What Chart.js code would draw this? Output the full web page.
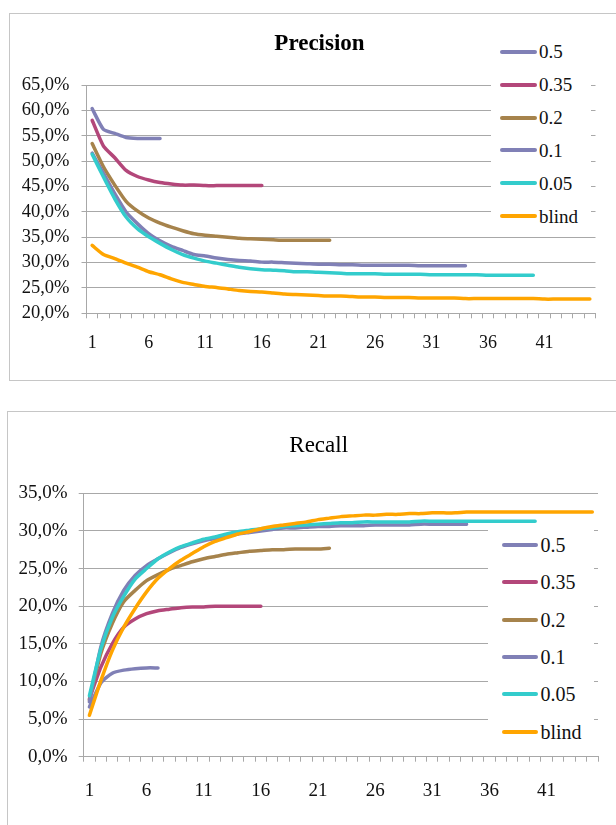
<!DOCTYPE html>
<html><head><meta charset="utf-8">
<script src="https://cdn.jsdelivr.net/npm/chart.js@4.4.1/dist/chart.umd.min.js"></script>
<style>
html,body{margin:0;padding:0;background:#fff;width:616px;height:825px;overflow:hidden;position:relative;font-family:"Liberation Serif",serif;}
.box{position:absolute;border:1.5px solid #c6c6c6;box-sizing:border-box;}
canvas{position:absolute;left:0;}
.leg{position:absolute;background:#fff;}
.lt{position:absolute;white-space:nowrap;color:#111;line-height:1;font-family:"Liberation Serif",serif;}
.ttl{position:absolute;width:240px;text-align:center;white-space:nowrap;color:#000;line-height:1;font-family:"Liberation Serif",serif;}
.sw{position:absolute;height:4px;border-radius:2px;}
</style></head><body>
<div class="box" style="left:9px;top:13px;width:640px;height:368px"></div>
<div class="box" style="left:7px;top:411px;width:640px;height:440px"></div>
<canvas id="c1" width="616" height="400" style="top:0"></canvas>
<canvas id="c2" width="616" height="425" style="top:400px"></canvas>
<script>
const categories = ['1','2','3','4','5','6','7','8','9','10','11','12','13','14','15','16','17','18','19','20','21','22','23','24','25','26','27','28','29','30','31','32','33','34','35','36','37','38','39','40','41','42','43','44','45'];
const seriesNames = ['0.5','0.35','0.2','0.1','0.05','blind'];
const seriesColors = ['#8080b6','#b3477a','#a6834c','#8080b6','#33cccc','#ffa500'];
const chartTitles = ['Precision','Recall'];

const precision05 = [60.4,56.3,55.5,54.7,54.5,54.5,54.5];
const precision035 = [58.1,53.0,50.7,48.2,47.0,46.3,45.8,45.5,45.3,45.3,45.2,45.2,45.2,45.2,45.2,45.2];
const precision02 = [53.5,48.9,45.3,42.1,40.2,38.8,37.8,37.0,36.3,35.7,35.4,35.2,35.0,34.8,34.7,34.6,34.5,34.4,34.4,34.4,34.4,34.4];
const precision01 = [51.6,47.6,43.6,40.0,37.7,35.7,34.3,33.2,32.4,31.6,31.3,30.9,30.6,30.4,30.3,30.1,30.1,30.0,29.9,29.8,29.7,29.7,29.6,29.6,29.5,29.5,29.5,29.5,29.5,29.4,29.4,29.4,29.4,29.4];
const precision005 = [51.4,46.9,42.6,39.0,36.7,35.1,33.8,32.6,31.6,30.9,30.3,29.9,29.5,29.1,28.8,28.6,28.5,28.4,28.2,28.2,28.1,28.0,27.9,27.8,27.8,27.8,27.7,27.7,27.7,27.7,27.6,27.6,27.6,27.6,27.6,27.5,27.5,27.5,27.5,27.5];
const precisionBlind = [33.4,31.6,30.8,29.9,29.1,28.2,27.6,26.8,26.1,25.7,25.3,25.1,24.8,24.5,24.3,24.2,24.0,23.8,23.7,23.6,23.5,23.4,23.4,23.3,23.2,23.2,23.1,23.1,23.1,23.0,23.0,23.0,23.0,22.9,22.9,22.9,22.9,22.9,22.9,22.9,22.8,22.8,22.8,22.8,22.8];

const recall05 = [6.6,9.8,11.1,11.5,11.7,11.8,11.8];
const recall035 = [7.7,11.9,15.0,17.2,18.3,19.0,19.4,19.6,19.8,19.9,19.9,20.0,20.0,20.0,20.0,20.0];
const recall02 = [7.5,13.7,17.7,20.6,22.1,23.4,24.2,24.9,25.4,25.9,26.3,26.6,26.9,27.1,27.3,27.4,27.5,27.5,27.6,27.6,27.6,27.7];
const recall01 = [7.3,14.6,19.0,22.1,24.1,25.4,26.3,27.1,27.8,28.3,28.7,29.0,29.3,29.6,29.8,30.0,30.2,30.4,30.4,30.5,30.6,30.6,30.7,30.7,30.7,30.8,30.8,30.8,30.8,30.9,30.9,30.9,30.9,30.9];
const recall005 = [8.1,14.3,18.5,21.3,23.6,25.0,26.3,27.2,27.9,28.4,28.9,29.2,29.6,29.9,30.1,30.3,30.4,30.6,30.7,30.8,30.9,31.0,31.1,31.1,31.2,31.2,31.2,31.2,31.2,31.3,31.3,31.3,31.3,31.3,31.3,31.3,31.3,31.3,31.3,31.3];
const recallBlind = [5.5,10.1,14.1,17.2,19.7,21.9,23.7,25.0,26.1,27.0,27.9,28.6,29.1,29.6,29.9,30.3,30.6,30.8,31.0,31.2,31.5,31.7,31.9,32.0,32.1,32.1,32.2,32.2,32.3,32.3,32.4,32.4,32.4,32.5,32.5,32.5,32.5,32.5,32.5,32.5,32.5,32.5,32.5,32.5,32.5];

const precisionTicks = [20,25,30,35,40,45,50,55,60,65];
const recallTicks = [0,5,10,15,20,25,30,35];

const precisionSeries = [precision05,precision035,precision02,precision01,precision005,precisionBlind];
const recallSeries = [recall05,recall035,recall02,recall01,recall005,recallBlind];

const FONT = 'Liberation Serif';

function build(canvasId, series, yTicks, layout, axis) {
  const datasets = series.map((d, i) => ({
    label: seriesNames[i], data: d,
    borderColor: seriesColors[i], backgroundColor: seriesColors[i],
    borderWidth: 3.5, pointRadius: 0, pointHoverRadius: 0, tension: 0.2,
    fill: false, borderCapStyle: 'round', borderJoinStyle: 'round',
    order: series.length - i
  }));
  return new Chart(document.getElementById(canvasId), {
    type: 'line',
    data: { labels: categories, datasets },
    options: {
      responsive: false, animation: false, events: [],
      layout: { padding: layout },
      plugins: { legend: { display: false }, tooltip: { enabled: false }, title: { display: false } },
      scales: {
        x: {
          type: 'category', offset: true,
          grid: { offset: true, drawOnChartArea: false, drawTicks: true, tickLength: 5, color: '#a8a8a8' },
          border: { color: '#a8a8a8', width: 1 },
          ticks: { autoSkip: false, maxRotation: 0, minRotation: 0, padding: axis.xPad, color: '#111',
            font: { family: FONT, size: axis.xFont, lineHeight: 1.2 },
            callback: (v, i) => (i % 5 === 0 ? categories[i] : '') },
          afterFit: s => { s.height = axis.xHeight; }
        },
        y: {
          min: yTicks[0], max: yTicks[yTicks.length - 1],
          afterBuildTicks: s => { s.ticks = yTicks.map(v => ({ value: v })); },
          grid: { color: '#a8a8a8', tickLength: 5, lineWidth: 1 },
          border: { color: '#a8a8a8', width: 1 },
          ticks: { padding: axis.yPad, color: '#111',
            font: { family: FONT, size: axis.yFont, lineHeight: 1.2 },
            callback: v => Number(v).toFixed(1).replace('.', ',') + '%' },
          afterFit: s => { s.width = axis.yWidth; }
        }
      }
    }
  });
}

build('c1', precisionSeries, precisionTicks,
  { left: 0, right: 20.5, top: 85.3, bottom: 0 },
  { xPad: 13.9, xFont: 18, xHeight: 86.7, yPad: 12, yFont: 18.5, yWidth: 86.5 });

build('c2', recallSeries, recallTicks,
  { left: 0, right: 18, top: 93.3, bottom: 0 },
  { xPad: 17.6, xFont: 19, xHeight: 68.3, yPad: 11.1, yFont: 19, yWidth: 83.7 });

function title(text, cx, cy, fs, bold) {
  const t = document.createElement('div');
  t.className = 'ttl';
  t.textContent = text;
  Object.assign(t.style, { left: (cx - 120) + 'px', top: (cy - 0.506 * fs) + 'px', fontSize: fs + 'px', fontWeight: bold ? 'bold' : 'normal' });
  document.body.appendChild(t);
}
title(chartTitles[0], 319.5, 42.7, 23, true);
title(chartTitles[1], 318.7, 445, 23, false);

function legend(box, first, step, lineL, lineW, textL, fs) {
  const b = document.createElement('div');
  b.className = 'leg';
  Object.assign(b.style, { left: box[0] + 'px', top: box[1] + 'px', width: box[2] + 'px', height: box[3] + 'px' });
  document.body.appendChild(b);
  seriesNames.forEach((n, k) => {
    const cy = first + k * step;
    const sw = document.createElement('div');
    sw.className = 'sw';
    Object.assign(sw.style, { left: lineL + 'px', top: (cy - 2) + 'px', width: lineW + 'px', background: seriesColors[k] });
    document.body.appendChild(sw);
    const t = document.createElement('div');
    t.className = 'lt';
    t.textContent = n;
    Object.assign(t.style, { left: textL + 'px', top: (cy - 0.51 * fs) + 'px', fontSize: fs + 'px' });
    document.body.appendChild(t);
  });
}
legend([491, 34, 100, 198], 51.7, 32.9, 500, 36.6, 539, 19);
legend([488, 526, 106, 222], 545, 37.35, 502, 35.5, 540.5, 20);
</script>
</body></html>
